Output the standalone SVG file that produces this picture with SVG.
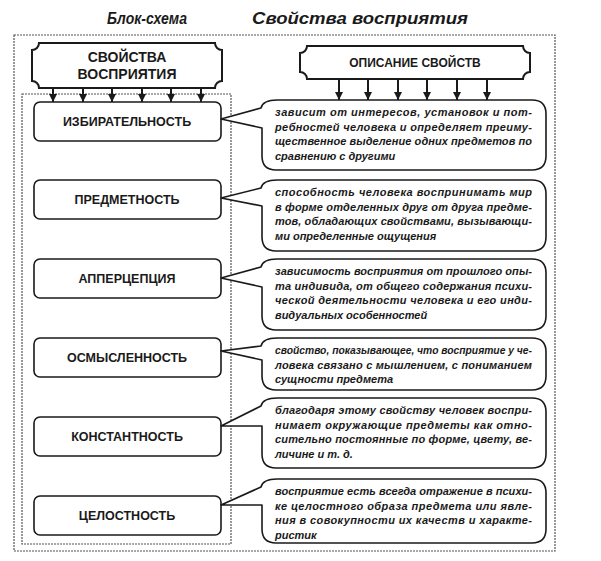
<svg xmlns="http://www.w3.org/2000/svg" width="601" height="561" viewBox="0 0 601 561">
<defs>
<style>
.title{font-family:"Liberation Sans",Arial,sans-serif;font-weight:bold;font-style:italic;font-size:16px;fill:#1a1a1a}
.frame{fill:none;stroke:#555;stroke-width:1.2;stroke-dasharray:2 1}
.plaque{fill:#fff;stroke:#1a1a1a;stroke-width:2}
.node{fill:#fff;stroke:#1a1a1a;stroke-width:1.6}
.bubble{fill:#fff;stroke:#1a1a1a;stroke-width:1.6;stroke-linejoin:round}
.hd{font-family:"Liberation Sans",Arial,sans-serif;font-weight:bold;font-size:14px;fill:#1a1a1a;text-anchor:middle}
.hd2{font-family:"Liberation Sans",Arial,sans-serif;font-weight:bold;font-size:12px;fill:#1a1a1a;text-anchor:middle}
.lbl{font-family:"Liberation Sans",Arial,sans-serif;font-weight:bold;font-size:12.5px;fill:#1a1a1a;text-anchor:middle}
.d{font-family:"Liberation Sans",Arial,sans-serif;font-weight:bold;font-style:italic;font-size:11px;fill:#1a1a1a}
.arr{stroke:#1a1a1a;stroke-width:2;fill:none}
</style>
<marker id="ah" viewBox="0 0 10 10" refX="10" refY="5" markerWidth="8" markerHeight="8" markerUnits="userSpaceOnUse" orient="auto">
<path d="M0,0 L10,5 L0,10 z" fill="#1a1a1a"/>
</marker>
</defs>
<rect width="601" height="561" fill="#fff"/>
<text class="title" x="107" y="24" textLength="80" lengthAdjust="spacingAndGlyphs">Блок-схема</text>
<text class="title" x="252" y="24" textLength="216" lengthAdjust="spacingAndGlyphs">Свойства восприятия</text>
<rect class="frame" x="14" y="35" width="541" height="516"/>
<rect class="frame" x="22" y="94" width="209" height="450"/>

<g id="header-left">
<path class="plaque" d="M39 43 H215 A7 7 0 0 0 222 50 V81 A7 7 0 0 0 215 88 H39 A7 7 0 0 0 32 81 V50 A7 7 0 0 0 39 43 Z"/>
<text class="hd" x="127" y="62">СВОЙСТВА</text>
<text class="hd" x="127" y="79">ВОСПРИЯТИЯ</text>
</g>
<g id="header-right">
<path class="plaque" d="M307 46 H523 A7 7 0 0 0 530 53 V72 A7 7 0 0 0 523 79 H307 A7 7 0 0 0 300 72 V53 A7 7 0 0 0 307 46 Z"/>
<text class="hd2" x="415" y="67">ОПИСАНИЕ СВОЙСТВ</text>
</g>

<g id="connectors">
<line class="arr" x1="53" y1="88" x2="53" y2="102" marker-end="url(#ah)"/>
<line class="arr" x1="83" y1="88" x2="83" y2="102" marker-end="url(#ah)"/>
<line class="arr" x1="112" y1="88" x2="112" y2="102" marker-end="url(#ah)"/>
<line class="arr" x1="142" y1="88" x2="142" y2="102" marker-end="url(#ah)"/>
<line class="arr" x1="171" y1="88" x2="171" y2="102" marker-end="url(#ah)"/>
<line class="arr" x1="201" y1="88" x2="201" y2="102" marker-end="url(#ah)"/>
<line class="arr" x1="339" y1="79" x2="339" y2="100" marker-end="url(#ah)"/>
<line class="arr" x1="368" y1="79" x2="368" y2="100" marker-end="url(#ah)"/>
<line class="arr" x1="398" y1="79" x2="398" y2="100" marker-end="url(#ah)"/>
<line class="arr" x1="427" y1="79" x2="427" y2="100" marker-end="url(#ah)"/>
<line class="arr" x1="457" y1="79" x2="457" y2="100" marker-end="url(#ah)"/>
<line class="arr" x1="487" y1="79" x2="487" y2="100" marker-end="url(#ah)"/>
</g>

<g id="node-izbiratelnost">
<rect class="node" x="34" y="102" width="187" height="39" rx="6"/>
<text class="lbl" x="127" y="126">ИЗБИРАТЕЛЬНОСТЬ</text>
</g>
<g id="node-predmetnost">
<rect class="node" x="34" y="180" width="187" height="39" rx="6"/>
<text class="lbl" x="127" y="204">ПРЕДМЕТНОСТЬ</text>
</g>
<g id="node-appercepciya">
<rect class="node" x="34" y="259" width="187" height="39" rx="6"/>
<text class="lbl" x="127" y="283">АППЕРЦЕПЦИЯ</text>
</g>
<g id="node-osmyslennost">
<rect class="node" x="34" y="338" width="187" height="39" rx="6"/>
<text class="lbl" x="127" y="362">ОСМЫСЛЕННОСТЬ</text>
</g>
<g id="node-konstantnost">
<rect class="node" x="34" y="417" width="187" height="39" rx="6"/>
<text class="lbl" x="127" y="441">КОНСТАНТНОСТЬ</text>
</g>
<g id="node-celostnost">
<rect class="node" x="34" y="496" width="187" height="39" rx="6"/>
<text class="lbl" x="127" y="520">ЦЕЛОСТНОСТЬ</text>
</g>

<g id="desc-1">
<path class="bubble" d="M221 119 L261 108 Q263 100 277 100 H532 Q546 100 546 114 V156 Q546 170 532 170 H276 Q262 170 262 156 V128 Z"/>
<text class="d" x="275" y="116" textLength="257" lengthAdjust="spacing">зависит от интересов, установок и пот-</text>
<text class="d" x="275" y="130.5" textLength="257" lengthAdjust="spacing">ребностей человека и определяет преиму-</text>
<text class="d" x="275" y="145" textLength="257" lengthAdjust="spacing">щественное выделение одних предметов по</text>
<text class="d" x="275" y="159.5">сравнению с другими</text>
</g>
<g id="desc-2">
<path class="bubble" d="M221 198 L261 188 Q263 180 277 180 H532 Q546 180 546 194 V237 Q546 251 532 251 H276 Q262 251 262 237 V206 Z"/>
<text class="d" x="275" y="196" textLength="257" lengthAdjust="spacing">способность человека воспринимать мир</text>
<text class="d" x="275" y="210.5" textLength="257" lengthAdjust="spacing">в форме отделенных друг от друга предме-</text>
<text class="d" x="275" y="225" textLength="257" lengthAdjust="spacing">тов, обладающих свойствами, вызывающи-</text>
<text class="d" x="275" y="239.5">ми определенные ощущения</text>
</g>
<g id="desc-3">
<path class="bubble" d="M221 278 L261 267 Q263 259 277 259 H532 Q546 259 546 273 V316 Q546 330 532 330 H276 Q262 330 262 316 V287 Z"/>
<text class="d" x="275" y="275" textLength="257" lengthAdjust="spacing">зависимость восприятия от прошлого опы-</text>
<text class="d" x="275" y="289.5" textLength="257" lengthAdjust="spacing">та индивида, от общего содержания психи-</text>
<text class="d" x="275" y="304" textLength="257" lengthAdjust="spacing">ческой деятельности человека и его инди-</text>
<text class="d" x="275" y="318.5">видуальных особенностей</text>
</g>
<g id="desc-4">
<path class="bubble" d="M221 351 L261 346 Q263 338 277 338 H532 Q546 338 546 352 V376 Q546 390 532 390 H276 Q262 390 262 376 V360 Z"/>
<text class="d" x="275" y="354" textLength="257" lengthAdjust="spacingAndGlyphs">свойство, показывающее, что восприятие у че-</text>
<text class="d" x="275" y="368.5" textLength="257" lengthAdjust="spacing">ловека связано с мышлением, с пониманием</text>
<text class="d" x="275" y="383">сущности предмета</text>
</g>
<g id="desc-5">
<path class="bubble" d="M221 426 L261 406 Q263 398 277 398 H532 Q546 398 546 412 V454 Q546 468 532 468 H276 Q262 468 262 454 V426 Z"/>
<text class="d" x="275" y="414" textLength="257" lengthAdjust="spacing">благодаря этому свойству человек воспри-</text>
<text class="d" x="275" y="428.5" textLength="257" lengthAdjust="spacing">нимает окружающие предметы как отно-</text>
<text class="d" x="275" y="443" textLength="257" lengthAdjust="spacing">сительно постоянные по форме, цвету, ве-</text>
<text class="d" x="275" y="457.5">личине и т. д.</text>
</g>
<g id="desc-6">
<path class="bubble" d="M221 505 L261 487 Q263 479 277 479 H532 Q546 479 546 493 V529 Q546 543 532 543 H276 Q262 543 262 529 V505 Z"/>
<text class="d" x="275" y="495" textLength="257" lengthAdjust="spacing">восприятие есть всегда отражение в психи-</text>
<text class="d" x="275" y="509.5" textLength="257" lengthAdjust="spacing">ке целостного образа предмета или явле-</text>
<text class="d" x="275" y="524" textLength="257" lengthAdjust="spacing">ния в совокупности их качеств и характе-</text>
<text class="d" x="275" y="538.5">ристик</text>
</g>
</svg>
